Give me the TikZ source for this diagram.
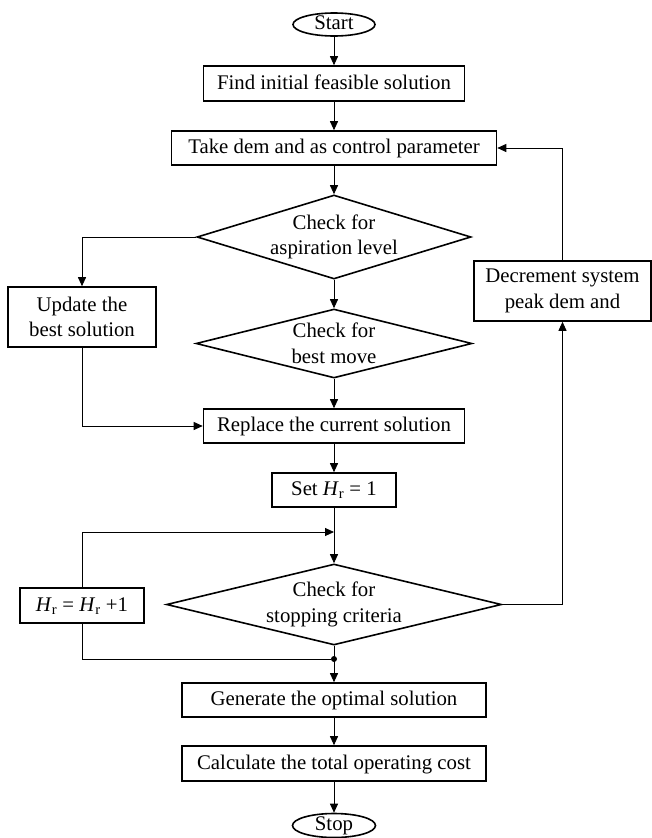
\documentclass[tikz,border=0pt]{standalone}
\usepackage{fontspec}
\setmainfont{Liberation Serif}
\usetikzlibrary{shapes.geometric,arrows.meta}
\begin{document}
\begin{tikzpicture}[x=1pt,y=-1pt,
  every node/.style={font=\fontsize{20.8}{25.5}\selectfont, inner sep=0pt, align=center},
  oneline/.style={text height=14pt, text depth=2.4pt},
  boxnode/.style={draw, line width=1.6pt, rectangle},
  termnode/.style={draw, line width=1.6pt, ellipse, text height=13pt, text depth=3pt},
  decnode/.style={draw, line width=1.6pt, diamond},
  conn/.style={line width=0.9pt, -{Triangle[length=9pt,width=8pt]}},
  plainline/.style={line width=0.9pt}]
\useasboundingbox (0,0) rectangle (651,838);

\node[termnode, minimum width=82pt, minimum height=23pt] (start) at (334,24.5) {Start};
\node[boxnode, oneline, minimum width=261pt, minimum height=35pt] (find) at (334,83.5) {Find initial feasible solution};
\node[boxnode, oneline, minimum width=325pt, minimum height=34pt] (take) at (334,148) {Take dem and as control parameter};
\node[decnode, aspect=3.26, minimum width=274pt, minimum height=84pt] (d1) at (334,237) {Check for\\aspiration level};
\node[boxnode, minimum width=148pt, minimum height=60pt] (update) at (82,317) {Update the\\best solution};
\node[decnode, aspect=4, minimum width=276pt, minimum height=69pt] (d2) at (334,343.5) {Check for\\best move};
\node[boxnode, minimum width=177pt, minimum height=60pt] (dec) at (562.5,291) {Decrement system\\peak dem and};
\node[boxnode, oneline, minimum width=261pt, minimum height=34pt] (replace) at (334,426) {Replace the current solution};
\node[boxnode, oneline, minimum width=124pt, minimum height=34pt] (set) at (334,490) {Set \textit{H}\textsubscript{r} = 1};
\node[decnode, aspect=4.1, minimum width=335pt, minimum height=81pt] (d3) at (334,604.5) {Check for\\stopping criteria};
\node[boxnode, oneline, minimum width=124pt, minimum height=35pt] (hr) at (82,605.5) {\textit{H}\textsubscript{r} = \textit{H}\textsubscript{r} +1};
\node[circle, fill, minimum size=6pt] (jn) at (334,659) {};
\node[boxnode, oneline, minimum width=304pt, minimum height=34pt] (gen) at (334,700) {Generate the optimal solution};
\node[boxnode, oneline, minimum width=304pt, minimum height=35pt] (calc) at (334,763.5) {Calculate the total operating cost};
\node[termnode, minimum width=83pt, minimum height=24pt] (stop) at (334,825.5) {Stop};
\coordinate (loop) at (334,532);

\draw[conn] (start) -- (find);
\draw[conn] (find) -- (take);
\draw[conn] (take) -- (d1);
\draw[conn] (d1) -- (d2);
\draw[conn] (d2) -- (replace);
\draw[conn] (replace) -- (set);
\draw[conn] (set) -- (d3);
\draw[conn] (d3.south) -- (gen.north);
\draw[conn] (gen) -- (calc);
\draw[conn] (calc) -- (stop);
\draw[conn] (d1.west) -| (update.north);
\draw[conn] (update.south) |- (replace.west);
\draw[conn] (hr.north) |- (loop);
\draw[plainline] (hr.south) |- (jn);
\draw[conn] (d3.east) -| (dec.south);
\draw[conn] (dec.north) |- (take.east);
\end{tikzpicture}
\end{document}
